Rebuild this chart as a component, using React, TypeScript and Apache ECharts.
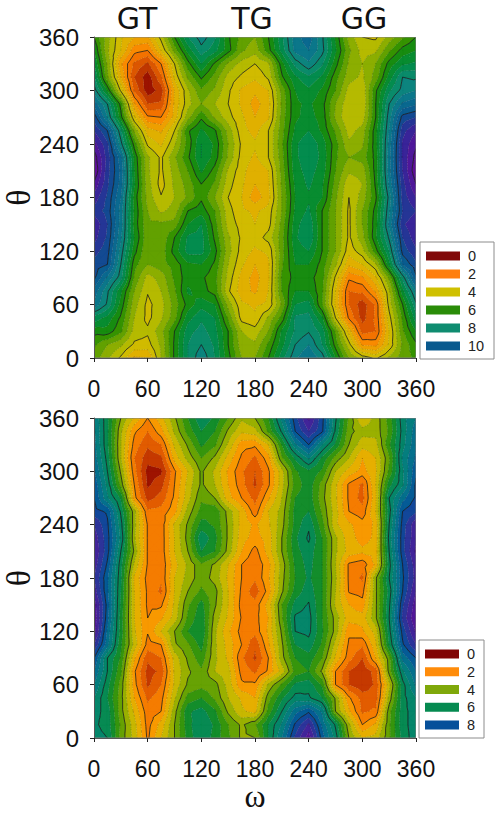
import React, { useEffect, useRef } from "react";
import * as echarts from "echarts";

const omegaTicks = [0, 15, 30, 45, 60, 75, 90, 105, 120, 135, 150, 165, 180, 195, 210, 225, 240, 255, 270, 285, 300, 315, 330, 345, 360];
const thetaRows = [360, 345, 330, 315, 300, 285, 270, 255, 240, 225, 210, 195, 180, 165, 150, 135, 120, 105, 90, 75, 60, 45, 30, 15, 0];

const topValues = [
  [6.0,4.7,3.6,3.0,2.9,4.2,6.0,7.5,8.3,7.6,6.1,5.3,5.0,6.0,7.4,8.8,9.3,8.1,6.4,4.8,4.0,3.9,4.7,5.4,6.0],
  [6.5,4.6,3.5,2.2,2.0,3.5,5.2,6.7,7.8,7.2,6.2,5.1,4.7,5.8,7.2,8.7,9.0,8.2,6.6,5.1,4.3,4.4,5.4,6.2,6.5],
  [7.0,4.9,2.6,1.4,0.9,2.0,4.0,5.8,7.0,5.9,4.9,4.3,4.0,4.4,6.3,7.7,8.4,7.6,6.2,4.9,4.5,5.0,6.2,6.9,7.1],
  [7.6,5.1,3.0,1.0,0.2,1.4,3.6,5.1,6.1,5.3,4.3,3.9,3.6,4.1,5.9,6.9,7.4,6.9,5.7,4.7,4.4,5.2,6.7,8.0,7.9],
  [8.3,6.4,3.9,1.4,0.2,0.7,3.0,4.4,5.4,4.9,4.1,3.4,3.1,3.5,5.2,6.5,6.9,6.4,5.5,4.3,4.1,5.9,7.4,8.2,8.5],
  [9.3,8.0,5.8,2.6,1.0,1.1,3.1,4.3,5.0,4.5,4.0,3.4,2.8,3.3,5.1,6.4,6.6,6.2,5.0,4.1,4.0,6.0,8.0,9.1,9.4],
  [10.3,8.5,6.2,3.6,2.1,2.0,3.2,4.8,5.9,4.9,4.2,3.6,3.0,3.4,5.2,6.4,6.7,6.3,4.9,4.0,4.2,6.0,8.3,10.2,10.5],
  [11.0,10.0,7.6,4.9,3.2,2.9,4.0,5.9,6.6,6.1,4.8,3.7,3.3,4.0,5.3,6.6,7.0,6.4,5.4,4.3,4.7,6.3,8.5,10.8,11.5],
  [11.7,10.6,8.2,5.8,3.9,3.4,4.4,5.7,7.0,6.4,5.0,3.9,3.6,4.0,5.4,6.9,7.4,6.8,5.7,4.6,4.9,6.3,8.7,11.1,11.9],
  [12.3,10.8,9.2,6.4,4.6,3.9,4.9,5.9,7.0,6.3,4.9,3.8,3.4,4.0,5.3,6.9,7.3,6.9,5.6,5.0,5.2,6.2,8.8,11.1,12.2],
  [12.5,10.7,9.4,6.5,4.6,3.9,4.7,5.5,6.6,5.8,4.4,3.7,3.1,3.5,5.2,6.8,7.2,6.8,5.5,4.6,4.7,6.2,8.8,11.0,12.4],
  [11.9,10.6,9.3,6.6,4.7,3.8,4.6,5.2,6.0,5.4,4.2,3.6,3.0,3.4,5.1,6.6,7.1,6.6,5.3,4.1,4.5,6.1,8.6,10.8,12.0],
  [11.3,10.4,9.0,6.3,4.8,4.05,4.5,5.1,5.9,5.0,4.0,3.5,2.7,3.3,5.0,6.5,6.9,6.5,5.1,4.0,4.7,5.9,8.2,10.7,11.5],
  [10.8,10.3,8.8,6.4,5.0,4.4,4.7,6.0,6.3,5.5,4.2,3.6,3.4,3.7,5.0,6.6,7.1,6.0,5.0,3.9,5.0,6.2,8.4,10.5,11.0],
  [11.4,10.5,8.8,6.3,5.1,5.1,5.2,6.5,7.0,5.7,4.3,3.8,3.5,3.8,5.2,6.8,7.4,6.0,5.0,3.9,5.0,6.3,8.6,10.9,11.4],
  [11.2,10.4,8.6,6.5,5.1,5.1,6.0,7.1,7.2,5.9,4.6,3.9,3.7,4.2,5.3,6.9,7.5,6.0,5.0,3.9,4.8,6.4,8.1,10.5,11.3],
  [10.7,10.2,8.3,6.2,5.0,5.2,6.2,7.2,7.2,6.2,4.7,3.8,3.4,3.6,5.3,6.7,7.0,6.0,5.0,3.7,4.3,5.8,7.5,10.2,10.9],
  [10.3,10.0,8.0,5.7,5.0,5.3,5.7,6.4,6.5,5.9,4.5,3.6,3.0,3.4,5.4,6.5,6.5,5.8,4.6,3.1,3.5,4.4,6.8,9.5,10.4],
  [10.1,8.9,7.7,5.4,4.3,4.7,5.6,6.3,6.1,5.7,4.3,3.3,2.8,3.4,5.6,6.2,6.2,5.7,3.9,2.1,2.4,3.4,5.1,7.7,9.9],
  [9.3,8.1,6.6,5.0,4.05,4.5,5.4,6.6,6.2,5.8,4.1,3.2,2.9,3.5,5.5,6.5,6.5,5.6,3.5,1.5,1.6,2.6,4.4,6.8,8.6],
  [8.9,7.9,6.3,4.7,3.85,4.3,5.2,6.2,6.8,6.5,4.8,3.6,3.4,3.6,5.1,7.0,7.2,5.5,3.4,1.5,0.7,1.6,4.2,6.0,7.9],
  [7.3,6.8,5.9,4.5,3.85,4.4,5.3,6.8,7.4,7.0,5.4,3.8,3.6,4.6,5.7,7.6,7.7,6.6,4.0,1.9,0.8,1.6,3.8,5.6,7.3],
  [6.2,6.3,5.6,4.3,4.1,4.8,6.0,7.3,7.7,7.2,6.0,4.5,4.2,5.0,6.6,7.6,7.95,7.3,5.4,3.3,1.3,1.5,3.5,5.4,6.5],
  [5.6,5.0,4.6,3.9,3.8,4.6,6.1,7.5,8.0,7.4,6.0,4.7,4.6,5.6,6.8,8.0,8.5,7.5,5.8,4.2,2.4,2.3,3.6,5.1,5.9],
  [5.3,4.6,3.9,2.9,3.0,4.5,6.1,7.5,8.4,7.5,6.2,5.0,5.0,6.0,7.3,8.4,9.0,8.3,6.5,5.0,4.3,3.9,4.6,5.3,5.6],
];

const bottomValues = [
  [7.0,5.6,4.0,2.9,2.0,2.8,3.9,5.0,5.9,5.4,4.5,3.6,4.0,5.0,6.7,8.3,9.6,8.2,6.1,4.4,3.0,3.7,4.7,6.3,7.0],
  [7.1,5.6,3.6,2.1,1.5,2.3,3.6,4.7,5.5,5.0,3.9,3.1,3.3,4.6,6.1,8.0,9.0,8.1,5.9,4.2,3.7,3.7,4.6,6.2,7.3],
  [7.2,5.6,3.5,1.8,1.1,1.5,3.1,4.1,5.1,4.6,3.4,2.2,2.1,3.0,5.0,6.9,8.0,6.5,5.4,4.0,3.2,3.3,4.9,6.3,7.4],
  [7.3,5.8,3.5,1.5,0.7,0.9,2.7,3.7,4.5,3.9,2.8,1.9,1.4,2.3,4.4,5.6,6.6,5.4,4.3,3.5,2.5,3.0,4.4,6.6,7.6],
  [7.6,6.0,3.9,1.7,0.3,0.4,1.9,3.0,4.1,3.4,2.4,1.6,1.0,1.9,3.3,4.9,5.4,4.9,3.5,2.8,2.3,2.9,4.6,6.4,7.9],
  [7.9,6.3,4.3,2.0,0.4,0.8,2.0,3.2,4.1,3.5,2.5,1.7,0.9,1.9,3.3,4.7,5.3,4.3,3.1,1.9,1.4,3.0,5.3,6.4,8.1],
  [8.0,6.6,5.4,2.2,0.8,1.2,2.1,3.3,4.4,4.0,2.7,2.0,1.3,2.4,3.5,5.0,5.3,4.2,3.1,1.9,1.3,2.9,6.0,7.3,8.1],
  [8.2,7.9,5.9,3.7,1.6,1.7,2.3,3.7,4.7,4.9,3.8,2.8,1.7,3.0,3.7,5.2,5.5,4.4,3.2,2.0,1.7,3.0,5.8,8.0,8.4],
  [9.0,8.1,6.2,3.7,1.95,1.7,3.1,4.1,5.2,4.9,3.9,2.8,2.4,2.9,3.8,5.2,5.9,4.7,3.1,2.6,2.2,2.6,6.0,8.2,9.4],
  [9.3,8.2,6.4,3.6,1.95,1.7,3.0,4.2,5.9,5.2,3.9,2.7,2.3,2.7,4.0,5.4,6.1,5.0,3.6,2.7,2.3,2.6,6.2,8.3,9.4],
  [9.5,8.2,6.0,3.9,1.95,1.7,3.0,4.0,5.5,5.0,3.8,2.5,1.8,2.7,4.0,5.3,5.8,5.0,3.6,2.8,2.6,2.7,6.0,8.3,9.6],
  [9.3,7.9,5.7,3.4,1.95,1.6,2.8,3.6,4.4,3.9,3.0,2.0,1.6,2.3,3.7,5.1,5.7,5.0,3.5,1.9,1.7,2.6,5.8,8.0,9.3],
  [9.0,7.6,5.6,2.9,1.8,1.6,3.0,3.7,4.3,3.8,2.9,2.0,1.6,2.4,3.8,5.0,5.6,5.0,3.6,1.9,1.4,3.9,6.0,7.9,9.2],
  [9.3,7.6,5.5,3.0,1.9,1.4,3.0,4.0,4.6,4.2,3.0,1.9,1.2,2.2,3.9,5.2,5.8,5.0,3.5,1.95,1.8,3.9,5.7,8.0,9.5],
  [9.8,7.8,5.4,3.0,1.9,1.9,3.1,4.4,5.2,4.1,3.0,1.8,1.7,2.7,4.5,5.7,6.05,5.0,3.4,2.5,2.2,3.9,5.9,8.4,9.8],
  [9.9,7.7,5.3,3.0,2.0,2.4,3.2,4.6,5.4,3.8,2.9,1.95,1.8,2.5,4.4,6.1,6.2,5.0,3.8,2.7,2.7,3.9,6.0,8.6,10.0],
  [9.8,7.4,5.3,3.1,2.05,3.0,4.0,5.0,5.5,3.6,2.6,1.8,1.7,2.6,4.1,6.0,6.15,5.1,3.8,2.1,2.4,3.2,5.8,8.2,9.6],
  [9.0,7.2,5.1,3.3,1.8,2.0,3.9,4.4,5.2,3.6,2.8,2.0,1.1,2.4,3.9,5.5,5.8,4.9,3.3,1.9,1.6,2.9,5.5,7.9,9.0],
  [8.0,6.0,4.9,2.6,1.1,1.5,3.2,4.1,4.8,3.6,2.9,1.6,0.9,2.0,3.8,5.0,5.3,4.5,2.9,1.7,1.0,2.5,4.3,7.2,8.0],
  [7.5,6.0,4.6,2.1,0.8,1.1,3.1,3.9,4.4,3.5,3.2,1.8,1.4,2.1,3.2,4.7,5.0,3.9,2.0,1.0,0.6,1.2,4.2,6.4,7.5],
  [7.0,5.7,4.3,2.2,0.9,1.5,3.1,4.1,4.3,4.2,3.3,2.1,2.1,3.6,4.6,5.6,5.8,4.9,2.0,1.0,0.6,1.1,3.3,5.8,7.1],
  [6.5,5.5,4.2,2.5,1.4,1.8,3.4,4.7,5.0,4.4,3.5,2.9,2.5,4.3,5.4,6.2,6.1,5.5,3.9,2.1,1.3,1.2,3.7,5.8,6.5],
  [6.2,5.8,4.2,2.9,1.7,2.0,3.8,5.4,5.7,5.1,3.9,3.1,2.8,4.7,6.0,7.3,7.9,6.9,4.0,2.6,1.4,1.6,4.3,5.8,6.3],
  [6.1,5.8,4.4,3.2,1.8,2.7,4.0,5.3,6.0,5.4,4.5,3.9,4.4,5.5,6.6,8.1,9.1,7.4,5.9,3.6,2.0,2.6,4.4,5.8,6.3],
  [6.2,6.0,4.3,3.3,1.9,3.0,4.0,5.2,5.95,5.3,4.6,3.9,4.0,5.5,7.0,8.6,9.8,7.8,6.3,4.0,3.0,3.2,4.4,5.7,6.3],
];

const axisTicks = ["0", "60", "120", "180", "240", "300", "360"];
const columnTitles = ["GT", "TG", "GG"];
const topLegendLabels = ["0", "2", "4", "6", "8", "10"];
const topLegendColors = ["#800808", "#ff7f0e", "#cfc000", "#2a8c08", "#0f8c70", "#0a5a8e"];
const bottomLegendLabels = ["0", "2", "4", "6", "8"];
const bottomLegendColors = ["#800505", "#ff8c0a", "#7fa80a", "#058a50", "#06509a"];

const topRamp: [number, string][] = [
  [0, "#8b0000"], [1, "#d04a00"], [2, "#ff7f00"], [3, "#e8aa00"], [4, "#c9c000"], [5, "#78a800"], [6, "#1f8c00"],
  [7, "#008c40"], [8, "#0d8a78"], [9, "#0a7090"], [10, "#0a5590"], [11, "#2e2a98"], [12, "#5a109a"], [13, "#6a0a90"],
];
const bottomRamp: [number, string][] = [
  [0, "#8b0000"], [1, "#d84c00"], [2, "#ff8c00"], [2.5, "#f0a500"], [3, "#dcb800"], [3.5, "#b4b800"], [4, "#7fa800"],
  [5, "#1e8f10"], [5.5, "#088a45"], [6, "#058a60"], [7, "#057a88"], [8, "#05509a"], [9, "#3a2a9a"], [10, "#5a109a"], [11, "#6a0a90"],
];

const BAND = 0.5;

function rampColor(ramp: [number, string][], v: number): string {
  const hex = (s: string) => [1, 3, 5].map((i) => parseInt(s.slice(i, i + 2), 16));
  for (let i = 1; i < ramp.length; i++) {
    if (v <= ramp[i][0]) {
      const t = (v - ramp[i - 1][0]) / (ramp[i][0] - ramp[i - 1][0]);
      const a = hex(ramp[i - 1][1]);
      const b = hex(ramp[i][1]);
      return "rgb(" + a.map((c, k) => Math.round(c + (b[k] - c) * t)).join(",") + ")";
    }
  }
  return ramp[ramp.length - 1][1];
}

type V = [number, number, number];

function clip(poly: V[], level: number, keepAbove: boolean): V[] {
  const out: V[] = [];
  const inside = (p: V) => (keepAbove ? p[2] >= level : p[2] <= level);
  for (let i = 0; i < poly.length; i++) {
    const a = poly[i];
    const b = poly[(i + 1) % poly.length];
    const ia = inside(a);
    const ib = inside(b);
    if (ia) out.push(a);
    if (ia !== ib) {
      const t = (level - a[2]) / (b[2] - a[2]);
      out.push([a[0] + (b[0] - a[0]) * t, a[1] + (b[1] - a[1]) * t, level]);
    }
  }
  return out;
}

function triangles(values: number[][]): V[][] {
  const tris: V[][] = [];
  for (let r = 0; r < thetaRows.length - 1; r++) {
    for (let c = 0; c < omegaTicks.length - 1; c++) {
      const p: V[] = [
        [omegaTicks[c], thetaRows[r], values[r][c]],
        [omegaTicks[c + 1], thetaRows[r], values[r][c + 1]],
        [omegaTicks[c + 1], thetaRows[r + 1], values[r + 1][c + 1]],
        [omegaTicks[c], thetaRows[r + 1], values[r + 1][c]],
      ];
      const m: V = [
        (p[0][0] + p[1][0]) / 2,
        (p[0][1] + p[2][1]) / 2,
        (p[0][2] + p[1][2] + p[2][2] + p[3][2]) / 4,
      ];
      for (let k = 0; k < 4; k++) tris.push([p[k], p[(k + 1) % 4], m]);
    }
  }
  return tris;
}

function renderContours(values: number[][], ramp: [number, string][]) {
  const tris = triangles(values);
  return (params: any, api: any) => {
    if (params.dataIndex !== 0) return undefined;
    const pt = (v: V | number[]) => {
      const c = api.coord([v[0], v[1]]);
      return c[0].toFixed(2) + " " + c[1].toFixed(2);
    };
    const children: any[] = [];
    for (let l = 0; l < 14 / BAND; l++) {
      const lo = l * BAND;
      const hi = lo + BAND;
      let d = "";
      for (const t of tris) {
        const poly = clip(clip(t, lo, true), hi, false);
        if (poly.length < 3) continue;
        d += "M" + poly.map(pt).join("L") + "Z";
      }
      if (d) {
        const fill = rampColor(ramp, lo + BAND / 2);
        children.push({ type: "path", shape: { pathData: d }, style: { fill, stroke: fill, lineWidth: 0.3 } });
      }
    }
    for (let l = 1; l < 14 / BAND; l++) {
      const level = l * BAND;
      let d = "";
      for (const t of tris) {
        const cuts: number[][] = [];
        for (let k = 0; k < 3; k++) {
          const a = t[k];
          const b = t[(k + 1) % 3];
          if (a[2] >= level !== b[2] >= level) {
            const s = (level - a[2]) / (b[2] - a[2]);
            cuts.push([a[0] + (b[0] - a[0]) * s, a[1] + (b[1] - a[1]) * s]);
          }
        }
        if (cuts.length === 2) d += "M" + pt(cuts[0]) + "L" + pt(cuts[1]);
      }
      if (!d) continue;
      const solid = l % 4 === 0;
      children.push({
        type: "path",
        shape: { pathData: d },
        style: solid
          ? { fill: "none", stroke: "#151515", lineWidth: 0.9, opacity: 0.85 }
          : { fill: "none", stroke: "#2a1a00", lineWidth: 0.7, lineDash: [1, 1.6], opacity: 0.3 },
      });
    }
    const corners = [[0, 0], [360, 0], [360, 360], [0, 360]];
    children.push({
      type: "path",
      shape: { pathData: "M" + corners.map(pt).join("L") + "Z" },
      style: { fill: "none", stroke: "#808080", lineWidth: 1 },
    });
    return { type: "group", children };
  };
}

function nodes(values: number[][]) {
  const out: number[][] = [];
  thetaRows.forEach((t, r) => omegaTicks.forEach((o, c) => out.push([o, t, values[r][c]])));
  return out;
}

function legend(labels: string[], colors: string[], box: number[], firstY: number, stepY: number) {
  const [x, y, w, h] = box;
  const children: any[] = [
    { type: "rect", shape: { x, y, width: w, height: h }, style: { fill: "#fff", stroke: "#8c8c8c", lineWidth: 1 } },
  ];
  labels.forEach((label, i) => {
    const cy = firstY + i * stepY;
    children.push({ type: "rect", shape: { x: x + 6, y: cy - 4.5, width: 34, height: 9 }, style: { fill: colors[i] } });
    children.push({
      type: "text",
      x: x + 48,
      y: cy,
      style: { text: label, fill: "#222", font: "14.5px 'Liberation Sans'", textVerticalAlign: "middle", verticalAlign: "middle" },
    });
  });
  return { type: "group", children };
}

const axisBase = (nameText: string, gap: number, labelMargin: number, fontSize: number, nameSize: number) => ({
  type: "value",
  min: 0,
  max: 360,
  interval: 60,
  z: 5,
  name: nameText,
  nameLocation: "middle",
  nameGap: gap,
  nameMoveOverlap: false,
  nameTextStyle: { fontFamily: "'Liberation Serif'", fontSize: nameSize, color: "#111" },
  axisLine: { show: true, onZero: false, lineStyle: { color: "#555", width: 1 } },
  axisTick: { show: true, length: 4, lineStyle: { color: "#222", width: 1 } },
  axisLabel: {
    fontFamily: "'Liberation Sans'",
    fontSize,
    color: "#111",
    margin: labelMargin,
    formatter: (v: number) => axisTicks[axisTicks.indexOf(String(v))],
  },
  splitLine: { show: false },
});

export default function App() {
  const ref = useRef<HTMLDivElement>(null);
  useEffect(() => {
    const chart = echarts.init(ref.current!, undefined, { renderer: "svg" });
    chart.setOption({
      animation: false,
      backgroundColor: "#fff",
      grid: [
        { left: 94, top: 37, width: 322, height: 321, outerBoundsMode: "none", containLabel: false },
        { left: 94, top: 418, width: 322, height: 320, outerBoundsMode: "none", containLabel: false },
      ],
      xAxis: [
        { ...axisBase("", 0, 19, 23, 32), gridIndex: 0 },
        { ...axisBase("ω", 42, 19, 23, 32), gridIndex: 1 },
      ],
      yAxis: [
        { ...axisBase("θ", 59, 15, 24, 34), gridIndex: 0 },
        { ...axisBase("θ", 59, 15, 24, 34), gridIndex: 1 },
      ],
      series: [
        {
          type: "custom",
          xAxisIndex: 0,
          yAxisIndex: 0,
          data: nodes(topValues),
          renderItem: renderContours(topValues, topRamp),
          silent: true,
          clip: true,
        },
        {
          type: "custom",
          xAxisIndex: 1,
          yAxisIndex: 1,
          data: nodes(bottomValues),
          renderItem: renderContours(bottomValues, bottomRamp),
          silent: true,
          clip: true,
        },
      ],
      graphic: [
        ...columnTitles.map((t, i) => ({
          type: "text",
          x: [137, 252, 364][i],
          y: 18,
          style: {
            text: t,
            fill: "#111",
            font: "30px 'DejaVu Sans'",
            textAlign: "center",
            align: "center",
            verticalAlign: "middle",
            textVerticalAlign: "middle",
          },
        })),
        legend(topLegendLabels, topLegendColors, [420, 242, 74, 117], 256, 18),
        legend(bottomLegendLabels, bottomLegendColors, [419, 640, 65, 98], 654, 17.75),
      ],
    });
    return () => chart.dispose();
  }, []);
  return <div ref={ref} style={{ position: "fixed", left: 0, top: 0, width: 501, height: 814 }} />;
}
